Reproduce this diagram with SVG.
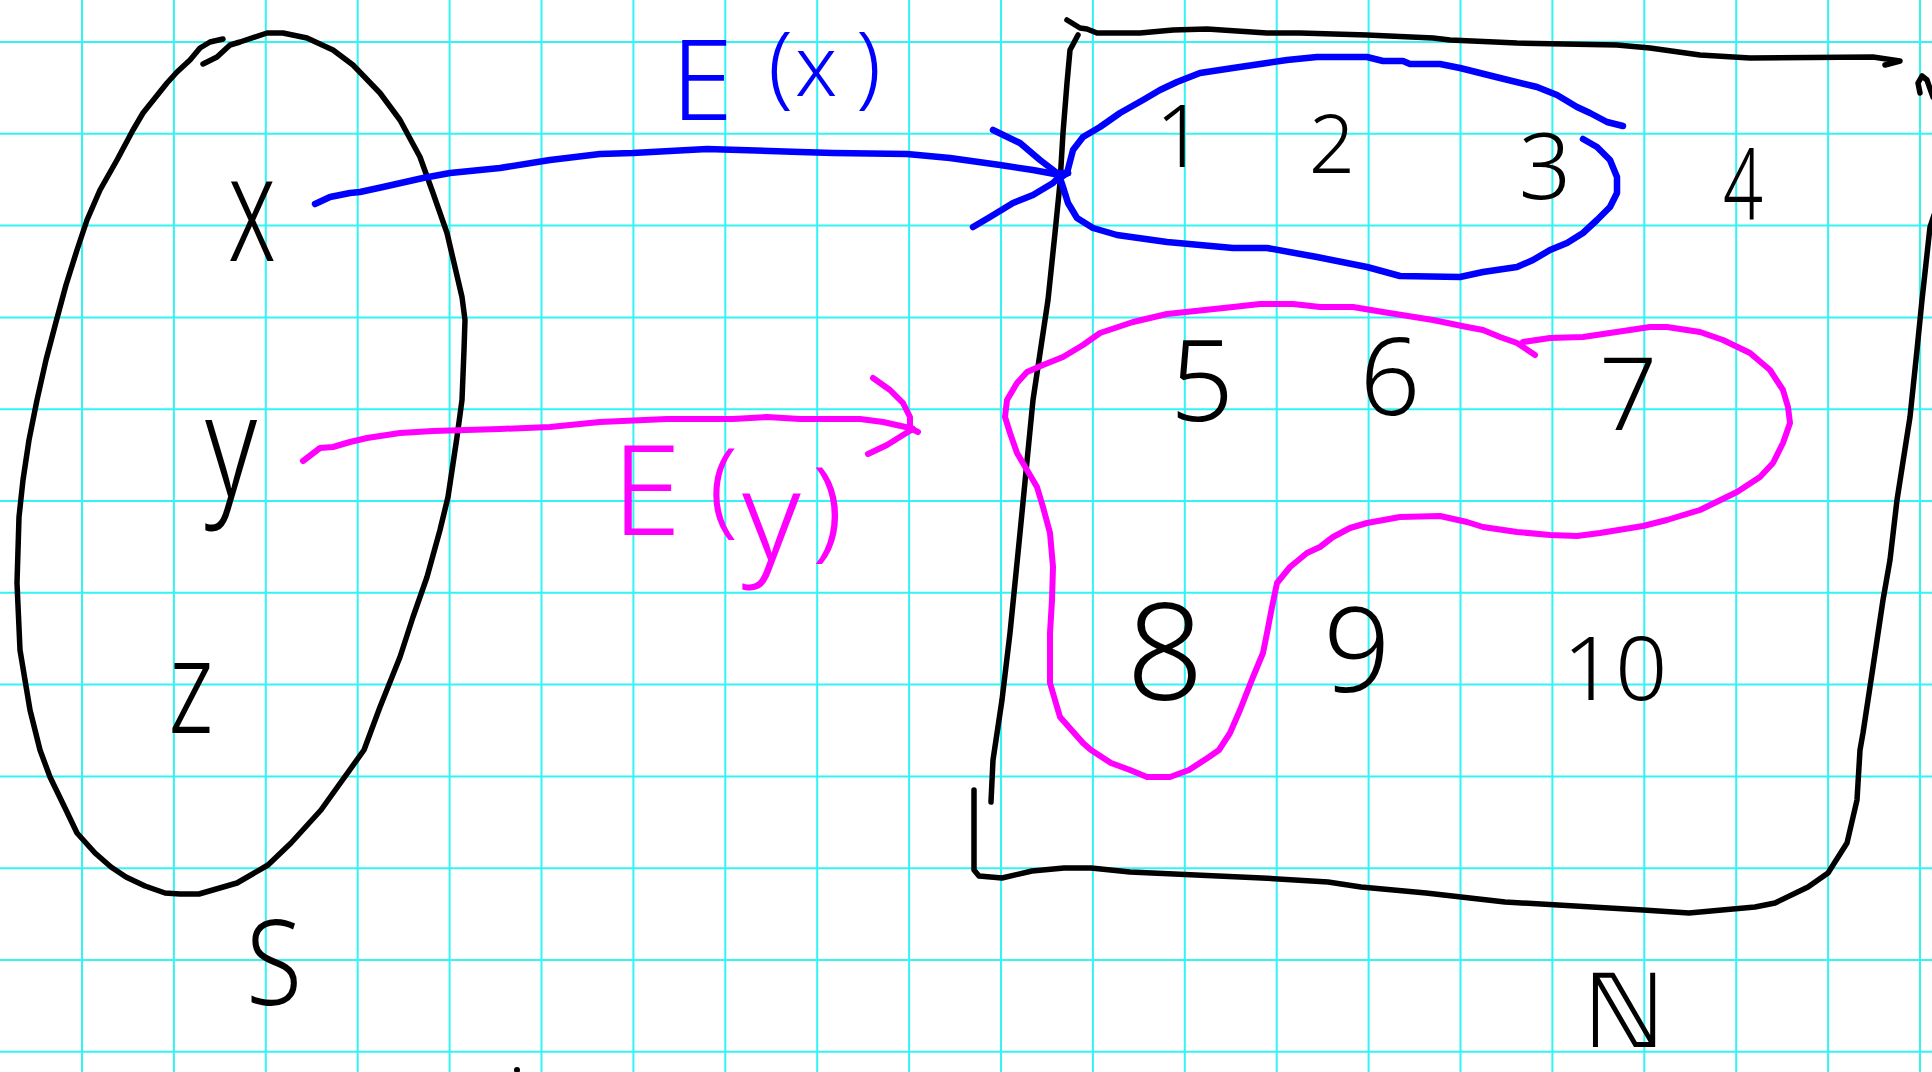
<svg xmlns="http://www.w3.org/2000/svg" width="1932" height="1072" viewBox="0 0 1932 1072">
<style>
.ink{fill:none;stroke:#000;stroke-width:5.5;stroke-linecap:round;stroke-linejoin:round}
.bl{fill:none;stroke:#0000ff;stroke-width:6.5;stroke-linecap:round;stroke-linejoin:round}
.mg{fill:none;stroke:#ff00ff;stroke-width:6;stroke-linecap:round;stroke-linejoin:round}
.tn{font-family:"Noto Sans","DejaVu Sans",sans-serif;font-weight:300;fill:#000;text-anchor:middle}
.tb{font-family:"Noto Sans","DejaVu Sans",sans-serif;font-weight:300;fill:#0000ff}
.tm{font-family:"Noto Sans","DejaVu Sans",sans-serif;font-weight:300;fill:#ff00ff}
</style>
<rect x="0" y="0" width="1932" height="1072" fill="#fff"/>
<g id="grid" stroke="#33f3f3" stroke-width="2" fill="none">
<path d="M82 0V1072M173.9 0V1072M265.8 0V1072M357.7 0V1072M449.6 0V1072M541.5 0V1072M633.4 0V1072M725.3 0V1072M817.2 0V1072M909.1 0V1072M1001 0V1072M1092.9 0V1072M1184.8 0V1072M1276.7 0V1072M1368.6 0V1072M1460.5 0V1072M1552.4 0V1072M1644.3 0V1072M1736.2 0V1072M1828.1 0V1072M1920 0V1072"/>
<path d="M0 42H1932M0 133.8H1932M0 225.6H1932M0 317.4H1932M0 409.2H1932M0 501H1932M0 592.8H1932M0 684.6H1932M0 776.4H1932M0 868.2H1932M0 960H1932M0 1051.8H1932"/>
</g>

<g id="node-S">
<polyline class="ink" points="223,39 210,42 200,48 190,60 177,72 167,83 143,113 133,130 117,160 100,190 87,220 77,250 66,285 56,322 46,360 37,400 29,440 23,480 19,517 17,583 20,650 30,710 40,750 50,777 66,810 77,833 95,853 111,867 126,877 145,886 165,893 180,894 199,894 237,883 268,865 291,843 321,810 364,750 380,707 400,657 413,617 427,577 440,530 448,497 457,437 462,400 464,350 465,320 462,297 447,233 433,193 420,157 400,120 380,93 353,65 333,50 307,38 283,33 267,33 240,42 230,45 217,57 203,64"/>
<text class="tn" x="274" y="1005" font-size="118" textLength="56" lengthAdjust="spacingAndGlyphs">S</text>
<circle cx="517" cy="1070" r="3" fill="#000"/>
</g>
<g id="node-x"><text class="tn" x="252" y="261" font-size="150" textLength="48" lengthAdjust="spacingAndGlyphs">x</text></g>
<g id="node-y"><text class="tn" x="231" y="497" font-size="144" textLength="52" lengthAdjust="spacingAndGlyphs">y</text></g>
<g id="node-z"><text class="tn" x="191" y="733" font-size="130" textLength="45" lengthAdjust="spacingAndGlyphs">z</text></g>

<g id="node-N">
<polyline class="ink" points="1067,20 1080,28 1087,29 1097,33 1140,33 1173,30 1207,29 1267,33 1300,33 1367,35 1433,38 1450,40 1517,43 1617,45 1650,48 1700,55 1750,58 1873,57 1900,61 1885,65"/>
<polyline class="ink" points="1078,35 1070,50 1067,83 1063,133 1060,183 1055,233 1048,300 1033,400 1020,533 1010,633 1002,700 993,760 991,802"/>
<polyline class="ink" points="1920,93 1918,83 1922,76 1927,80 1933,97"/>
<polyline class="ink" points="1934,215 1930,227 1922,300 1917,350 1910,417 1897,500 1890,560 1883,600 1873,667 1863,733 1860,750 1857,800 1847,843 1828,873 1808,887 1775,903 1755,907 1689,913 1643,910 1505,902 1426,893 1361,887 1328,882 1262,878 1130,872 1091,868 1064,868 1032,871 1002,878 979,876 974,870 974,790"/>
<text x="1624" y="1047" font-size="102" textLength="82" lengthAdjust="spacingAndGlyphs" style="font-family:'DejaVu Sans',sans-serif;fill:#000;text-anchor:middle">ℕ</text>
</g>

<g id="node-1"><text class="tn" x="1180" y="167" font-size="87">1</text></g>
<g id="node-2"><text class="tn" x="1332" y="173" font-size="81">2</text></g>
<g id="node-3"><text class="tn" x="1545" y="199" font-size="92">3</text></g>
<g id="node-4"><text class="tn" x="1743" y="220" font-size="100" textLength="40" lengthAdjust="spacingAndGlyphs">4</text></g>
<g id="node-5"><text class="tn" x="1202" y="421" font-size="112">5</text></g>
<g id="node-6"><text class="tn" x="1390" y="415" font-size="106">6</text></g>
<g id="node-7"><text class="tn" x="1628" y="430" font-size="102">7</text></g>
<g id="node-8"><text class="tn" x="1165" y="700" font-size="135">8</text></g>
<g id="node-9"><text class="tn" x="1357" y="692" font-size="118">9</text></g>
<g id="node-10"><text class="tn" x="1615" y="700" font-size="88" textLength="105" lengthAdjust="spacingAndGlyphs">10</text></g>

<g id="node-Ex">
<polyline class="bl" points="1067,173 1073,150 1083,137 1100,127 1120,113 1143,100 1160,90 1177,82 1200,73 1233,68 1267,63 1287,60 1317,57 1367,57 1383,61 1403,61 1410,64 1440,64 1460,68 1500,78 1537,87 1557,95 1577,107 1590,113 1607,122 1623,126"/>
<polyline class="bl" points="1583,139 1597,147 1610,160 1617,177 1617,193 1610,207 1597,220 1583,233 1567,243 1550,250 1533,260 1517,267 1483,272 1460,277 1400,276 1367,267 1317,257 1267,248 1233,248 1200,245 1167,242 1117,235 1093,228 1077,218 1068,203 1063,187 1060,178 1067,173"/>
</g>

<g id="node-Ey">
<polyline class="mg" points="1523,342 1550,338 1583,337 1650,327 1667,327 1700,332 1723,340 1750,353 1770,370 1783,390 1788,407 1790,423 1783,443 1773,463 1760,477 1737,492 1700,510 1667,520 1643,526 1600,533 1577,536 1550,535 1517,532 1483,527 1467,522 1440,516 1400,517 1367,523 1350,528 1333,537 1320,547 1307,553 1290,567 1277,583 1272,607 1267,633 1263,653 1253,677 1240,710 1230,733 1219,750 1209,757 1189,770 1170,777 1147,777 1130,770 1111,763 1091,750 1083,743 1060,717 1050,683 1050,633 1052,600 1053,567 1050,533 1043,507 1037,487 1027,470 1017,453 1010,433 1005,417 1007,400 1017,383 1027,372 1043,365 1063,357 1083,345 1100,333 1133,322 1167,314 1233,307 1260,304 1293,304 1320,307 1353,307 1383,312 1433,320 1467,327 1483,330 1500,337 1517,343 1535,355"/>
</g>

<g id="connectors">
<polyline class="bl" points="315,204 330,197 350,193 360,192 383,187 423,178 450,173 500,168 550,160 600,154 633,153 707,149 800,152 833,153 907,154 950,158 1000,165 1033,170 1060,175 1068,173"/>
<polyline class="bl" points="993,130 1020,143 1040,160 1057,173 1068,173"/>
<polyline class="bl" points="973,227 990,217 1013,203 1033,195 1053,183 1060,176"/>
<text class="tb"><tspan x="671" y="120" font-size="112">E</tspan><tspan x="768" y="97" font-size="90">(</tspan><tspan x="795" y="96" font-size="84">x</tspan><tspan x="856" y="97" font-size="90">)</tspan></text>
<polyline class="mg" points="303,461 320,448 333,447 350,442 367,438 400,433 433,431 500,429 550,427 600,422 667,419 733,419 767,417 800,419 860,419 883,422 910,428 918,432"/>
<polyline class="mg" points="873,378 890,390 903,403 910,417 910,427 913,429"/>
<polyline class="mg" points="868,454 887,445 903,435 913,429"/>
<text class="tm"><tspan x="612" y="535" font-size="125">E</tspan><tspan x="709" y="523" font-size="105">(</tspan><tspan x="742" y="560" font-size="125">y</tspan><tspan x="812" y="547" font-size="110">)</tspan></text>
</g>
</svg>
